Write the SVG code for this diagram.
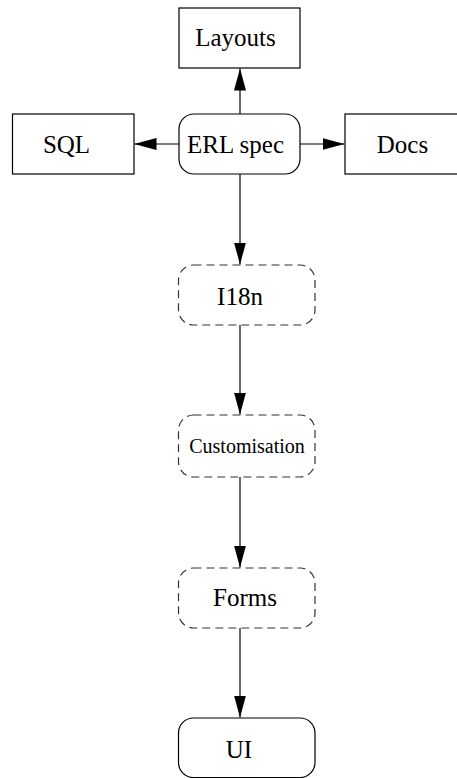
<svg xmlns="http://www.w3.org/2000/svg" width="457" height="778" viewBox="0 0 457 778">
<style>
.box{fill:#fff;stroke:#000;stroke-width:1.2}
.dash{fill:#fff;stroke:#333;stroke-width:1.2;stroke-dasharray:8,5}
text{font-family:"Liberation Serif","Times New Roman",serif;font-size:25px;fill:#000;text-anchor:middle}
.e{stroke:#000;stroke-width:1.2;fill:none}
</style>
<defs>
<marker id="ah" markerWidth="22" markerHeight="12" refX="22" refY="6" orient="auto" markerUnits="userSpaceOnUse">
<path d="M0,0 L22,6 L0,12 Z" fill="#000"/>
</marker>
</defs>
<g id="connectors">
<line class="e" x1="240" y1="114" x2="240" y2="68.5" marker-end="url(#ah)"/>
<line class="e" x1="179" y1="144" x2="134.5" y2="144" marker-end="url(#ah)"/>
<line class="e" x1="300" y1="144" x2="344.5" y2="144" marker-end="url(#ah)"/>
<line class="e" x1="240" y1="174" x2="240" y2="264.5" marker-end="url(#ah)"/>
<line class="e" x1="240" y1="325" x2="240" y2="414.5" marker-end="url(#ah)"/>
<line class="e" x1="240" y1="477" x2="240" y2="567.5" marker-end="url(#ah)"/>
<line class="e" x1="240" y1="628" x2="240" y2="717.5" marker-end="url(#ah)"/>
</g>
<g id="layouts"><rect class="box" x="179" y="8" width="121" height="60"/><text x="235.5" y="46">Layouts</text></g>
<g id="sql"><rect class="box" x="12.5" y="114" width="121.5" height="60"/><text x="66.5" y="153">SQL</text></g>
<g id="erl"><rect class="box" x="179" y="114" width="121" height="60" rx="15" ry="15"/><text x="235.5" y="153">ERL spec</text></g>
<g id="docs"><rect class="box" x="345" y="114" width="130" height="60"/><text x="402.5" y="153">Docs</text></g>
<g id="i18n"><rect class="dash" x="178.5" y="265" width="136.5" height="60" rx="15" ry="15"/><text x="240" y="305">I18n</text></g>
<g id="custom"><rect class="dash" x="178.5" y="415" width="136.5" height="62" rx="15" ry="15"/><text x="247" y="453" style="font-size:20px">Customisation</text></g>
<g id="forms"><rect class="dash" x="178.5" y="568" width="136.5" height="60" rx="15" ry="15"/><text x="245" y="606">Forms</text></g>
<g id="ui"><rect class="box" x="178.5" y="718" width="136.5" height="59.5" rx="15" ry="15"/><text x="239" y="758">UI</text></g>
</svg>
